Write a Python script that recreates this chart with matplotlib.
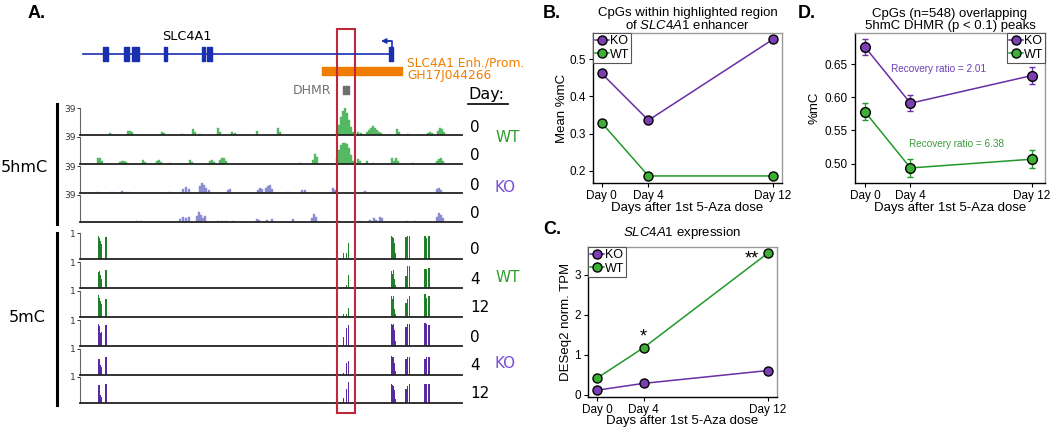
import matplotlib
matplotlib.use("Agg")
import matplotlib.pyplot as plt
from matplotlib.patches import Rectangle
from matplotlib.lines import Line2D

plt.rcParams["font.family"] = "Liberation Sans"
plt.rcParams["mathtext.fontset"] = "custom"
plt.rcParams["mathtext.it"] = "Liberation Sans:italic"
plt.rcParams["mathtext.rm"] = "Liberation Sans"

# ---------------- data ----------------
# panel A: browser region, positions in arbitrary region units (0-382)
gene_span = (3, 312)
exons = [(23, 5), (44, 5), (52, 7), (84, 3), (122, 3), (127, 5), (309, 4)]
tss = 312
enhancer = (242, 80)
dhmr = (263, 6)
highlight = (257, 275)

hmc_labels = ["0", "0", "0", "0"]
hmc_wt0_pos = [30, 48, 50, 52, 82, 84, 102, 113, 115, 120, 138, 140, 152, 155, 177, 198, 200,
               257, 259, 261, 263, 265, 267, 269, 271, 273,
               278, 281, 287, 289, 291, 293, 295, 297, 299, 301, 317, 319, 328, 348, 350, 352,
               358, 360, 362, 364]
hmc_wt0_val = [3, 6, 6, 4, 4, 3, 1, 9, 4, 1, 10, 4, 4, 3, 6, 10, 4,
               6, 14, 26, 35, 39, 32, 22, 12, 4,
               4, 3, 4, 7, 10, 13, 10, 7, 4, 3, 9, 4, 1, 3, 4, 3,
               6, 10, 9, 4]
hmc_wt1_pos = [18, 20, 22, 40, 42, 44, 46, 63, 65, 77, 79, 81, 90, 110, 112, 130, 132, 134,
               140, 142, 144, 146, 220, 233, 235, 237,
               257, 259, 261, 263, 265, 267, 269, 271, 273,
               278, 280, 287, 293, 312, 314, 316, 318, 333, 357, 359, 361, 363]
hmc_wt1_val = [9, 8, 4, 3, 5, 5, 3, 6, 3, 4, 6, 3, 1, 6, 3, 5, 6, 3,
               6, 9, 8, 4, 1, 6, 14, 10,
               8, 20, 27, 30, 30, 29, 23, 13, 4,
               7, 5, 4, 1, 8, 4, 8, 4, 2, 4, 7, 9, 5]
hmc_ko0_pos = [18, 32, 42, 48, 90, 103, 106, 109, 120, 122, 124, 126, 129, 148, 150,
               178, 180, 182, 186, 188, 190, 192, 208, 222, 225, 253, 255, 285, 357, 359, 361]
hmc_ko0_val = [2, 1.5, 3, 1.5, 1.5, 6, 9, 6, 10, 14, 12, 7, 4, 4, 6,
               4, 7, 6, 7, 10, 12, 6, 1.5, 4, 4, 7, 4, 3, 6, 7, 4]
hmc_ko1_pos = [57, 61, 100, 103, 106, 109, 117, 119, 121, 123, 125, 138, 142, 146, 153,
               177, 179, 187, 192, 213, 232, 234, 236, 260, 280, 290, 294, 296, 300, 302,
               327, 335, 357, 359, 361, 363]
hmc_ko1_val = [1.5, 1.5, 4, 7, 6, 7, 9, 14, 10, 6, 9, 2, 2, 2, 1.5,
               4, 3, 3, 4, 4, 6, 12, 7, 1.5, 1.5, 3, 6, 3, 7, 6,
               1.5, 1.5, 7, 13, 10, 6]

cpg_pos = [18.3, 19.3, 20.3, 21.3, 26, 263.5, 266.5, 268.3, 311.7, 312.7, 313.7, 314.7,
           315.7, 326, 327.3, 329.3, 345, 346.7, 349]
mc_labels = ["0", "4", "12", "0", "4", "12"]
mc_wt0 = [0.88, 0.80, 0.70, 0.58, 0.83, 0.22, 0.25, 0.63, 0.90, 0.85, 0.80, 0.60, 0.22,
          0.86, 0.88, 0.88, 0.88, 0.80, 0.88]
mc_wt4 = [0.60, 0.65, 0.50, 0.35, 0.68, 0.03, 0.10, 0.50, 0.65, 0.55, 0.70, 0.35, 0.10,
          0.45, 0.85, 0.85, 0.75, 0.75, 0.78]
mc_wt12 = [0.85, 0.75, 0.60, 0.50, 0.70, 0.10, 0.12, 0.35, 0.80, 0.70, 0.80, 0.30, 0.10,
           0.55, 0.70, 0.80, 0.90, 0.75, 0.80]
mc_ko0 = [0.85, 0.77, 0.50, 0.55, 0.80, 0.35, 0.70, 0.80, 0.85, 0.80, 0.85, 0.60, 0.20,
          0.75, 0.85, 0.85, 0.90, 0.85, 0.80]
mc_ko4 = [0.60, 0.60, 0.40, 0.30, 0.70, 0.08, 0.45, 0.55, 0.75, 0.70, 0.70, 0.45, 0.15,
          0.60, 0.70, 0.70, 0.60, 0.70, 0.70]
mc_ko12 = [0.70, 0.70, 0.30, 0.25, 0.75, 0.20, 0.55, 0.80, 0.75, 0.70, 0.65, 0.50, 0.15,
           0.55, 0.65, 0.75, 0.75, 0.75, 0.75]

# panels B-D
days = [0, 3, 11]
day_labels = ["Day 0", "Day 4", "Day 12"]
b_ko = [0.462, 0.336, 0.554]
b_wt = [0.329, 0.186, 0.186]
c_ko = [0.12, 0.29, 0.61]
c_wt = [0.42, 1.18, 3.54]
d_ko = [0.6758, 0.591, 0.6327]
d_ko_err = [0.0126, 0.012, 0.0127]
d_wt = [0.578, 0.4933, 0.5065]
d_wt_err = [0.0126, 0.013, 0.014]

# colours
KO_C = "#7B3FB3"
KO_L = "#6A2DA5"
WT_C = "#3CB034"
WT_L = "#22992A"
HMC_WT = "#55B862"
HMC_KO = "#8C8CD2"
MC_WT = "#1F7F2A"
MC_KO = "#5A2BA0"

W, H = 1050, 430
fig = plt.figure(figsize=(W / 100, H / 100), dpi=100)


def px_axes(l, t, r, b):
    return fig.add_axes([l / W, 1 - b / H, (r - l) / W, (b - t) / H])


# ---------------- panel A tracks ----------------
def track_axes(baseline, height, ymax, label):
    ax = px_axes(80, baseline - height, 462, baseline)
    ax.set_xlim(0, 382)
    ax.set_ylim(0, ymax)
    ax.patch.set_alpha(0)
    for s in ["top", "right"]:
        ax.spines[s].set_visible(False)
    ax.spines["bottom"].set_color("#222222")
    ax.spines["bottom"].set_linewidth(1.3)
    ax.spines["left"].set_color("#666666")
    ax.spines["left"].set_linewidth(0.8)
    ax.set_xticks([])
    ax.set_yticks([ymax])
    ax.set_yticklabels([label], family="DejaVu Sans")
    ax.tick_params(axis="y", length=2, width=0.7, labelsize=6.5, pad=1,
                   colors="#333333")
    return ax


hmc_base = [135, 164, 193, 222]
hmc_tracks = [(hmc_wt0_pos, hmc_wt0_val, HMC_WT), (hmc_wt1_pos, hmc_wt1_val, HMC_WT),
              (hmc_ko0_pos, hmc_ko0_val, HMC_KO), (hmc_ko1_pos, hmc_ko1_val, HMC_KO)]
for base, (pos, val, col) in zip(hmc_base, hmc_tracks):
    ax = track_axes(base, 27, 39, "39")
    ax.bar(pos, val, width=2.0, color=col, edgecolor=col, linewidth=0.3)

mc_base = [259, 288, 317, 346, 375, 403]
mc_tracks = [(mc_wt0, MC_WT), (mc_wt4, MC_WT), (mc_wt12, MC_WT),
             (mc_ko0, MC_KO), (mc_ko4, MC_KO), (mc_ko12, MC_KO)]
for base, (val, col) in zip(mc_base, mc_tracks):
    ax = track_axes(base, 26, 1, "1")
    ax.bar(cpg_pos, val, width=1.1, color=col)

# ---------------- panel A annotations ----------------
axA = px_axes(0, 0, 560, 430)
axA.set_xlim(-80, 480)
axA.set_ylim(430, 0)
axA.axis("off")
axA.set_zorder(10)
axA.patch.set_alpha(0)
dv = "DejaVu Sans"

axA.text(-52, 14, "A.", fontsize=13, fontweight="bold", va="center", ha="left")
axA.plot(gene_span, [54, 54], color="#1A2FB0", lw=1.2)
axA.broken_barh(exons, (47, 14), color="#1A2FB0")
axA.plot([tss, tss, tss - 3], [54, 41, 41], color="#1A2FB0", lw=1.2)
axA.annotate("", xy=(tss - 11, 41), xytext=(tss - 2, 41),
             arrowprops=dict(arrowstyle="-|>", color="#1A2FB0", lw=1.2,
                             mutation_scale=7, shrinkA=0, shrinkB=0))
axA.text(107, 37, "SLC4A1", family=dv, fontsize=9.3, ha="center", va="center")
axA.broken_barh([enhancer], (67, 8), color="#F07D00")
axA.text(327, 63, "SLC4A1 Enh./Prom.", family=dv, fontsize=8.8, color="#F07D00",
         ha="left", va="center")
axA.text(327, 76, "GH17J044266", family=dv, fontsize=8.8, color="#F07D00",
         ha="left", va="center")
axA.broken_barh([dhmr], (86, 8), color="#707070")
axA.text(dhmr[0] - 12, 90, "DHMR", family=dv, fontsize=9, color="#707070",
         ha="right", va="center")
axA.add_patch(Rectangle((highlight[0], 29), highlight[1] - highlight[0], 384,
                        fill=False, edgecolor="#C0283C", lw=1.5))

axA.plot([-23, -23], [104, 224], color="black", lw=2.2)
axA.plot([-23, -23], [233, 405], color="black", lw=2.2)
axA.text(-56, 168, "5hmC", family=dv, fontsize=11.5, ha="center", va="center")
axA.text(-53, 318, "5mC", family=dv, fontsize=11.5, ha="center", va="center")

axA.text(388, 95, "Day:", family=dv, fontsize=11.5, ha="left", va="center")
axA.plot([388, 428], [104, 104], color="black", lw=1.2)
for base, lab in zip(hmc_base, hmc_labels):
    axA.text(390, base - 8, lab, family=dv, fontsize=11, ha="left", va="center")
for base, lab in zip(mc_base, mc_labels):
    axA.text(390, base - 9, lab, family=dv, fontsize=11, ha="left", va="center")
grp_col = {"WT": "#2EA02E", "KO": "#7A4FD8"}
for y, g in [(137, "WT"), (188, "KO"), (278, "WT"), (363, "KO")]:
    axA.text(415, y, g, family=dv, fontsize=11, color=grp_col[g], ha="left", va="center")


# ---------------- panels B-D ----------------
def style_axes(ax):
    for s in ["top", "right"]:
        ax.spines[s].set_color("#999999")
        ax.spines[s].set_linewidth(1.0)
    for s in ["left", "bottom"]:
        ax.spines[s].set_color("black")
        ax.spines[s].set_linewidth(1.0)
    ax.set_xticks(days)
    ax.set_xticklabels(day_labels)
    ax.tick_params(length=3, width=0.8, labelsize=8.5, pad=2)


def legend(ax, loc, anchor):
    handles = [Line2D([], [], color=KO_L, lw=1.1, marker="o", ms=6.5, mfc=KO_C, mec="black"),
               Line2D([], [], color=WT_L, lw=1.1, marker="o", ms=6.5, mfc=WT_C, mec="black")]
    leg = ax.legend(handles, ["KO", "WT"], loc=loc, bbox_to_anchor=anchor, fontsize=9,
                    handlelength=1.1, handletextpad=0.1, borderpad=0.15,
                    labelspacing=0.15, borderaxespad=0, fancybox=False, framealpha=1)
    leg.get_frame().set_edgecolor("#555555")
    leg.get_frame().set_linewidth(0.8)


# B
axB = px_axes(593, 33, 782, 183)
axB.plot(days, b_ko, "-o", color=KO_L, lw=1.1, ms=6.5, mfc=KO_C, mec="black", mew=1)
axB.plot(days, b_wt, "-o", color=WT_L, lw=1.1, ms=6.5, mfc=WT_C, mec="black", mew=1)
axB.set_xlim(-0.56, 11.58)
axB.set_ylim(0.167, 0.571)
axB.set_yticks([0.2, 0.3, 0.4, 0.5])
style_axes(axB)
axB.set_title("CpGs within highlighted region\nof $\\mathit{SLC4A1}$ enhancer",
              fontsize=9.5, pad=3, linespacing=1.0)
axB.set_ylabel("Mean %mC", fontsize=9.5)
axB.set_xlabel("Days after 1st 5-Aza dose", fontsize=9.5)
axB.yaxis.set_label_coords(-0.132, 0.5)
axB.xaxis.set_label_coords(0.5, -0.13)
legend(axB, "upper left", (0, 1))
fig.text(543 / W, 1 - 13 / H, "B.", fontsize=13, fontweight="bold", va="center")

# C
axC = px_axes(588, 247, 777, 397)
axC.plot(days, c_ko, "-o", color=KO_L, lw=1.1, ms=6.5, mfc=KO_C, mec="black", mew=1)
axC.plot(days, c_wt, "-o", color=WT_L, lw=1.1, ms=6.5, mfc=WT_C, mec="black", mew=1)
axC.set_xlim(-0.58, 11.58)
axC.set_ylim(-0.05, 3.69)
axC.set_yticks([0, 1, 2, 3])
style_axes(axC)
axC.text(days[1], c_wt[1] + 0.05, "*", fontsize=13, ha="center", va="bottom")
axC.text(10.45, c_wt[2] - 0.15, "**", fontsize=13, ha="right", va="center")
axC.set_title("$\\mathit{SLC4A1}$ expression", fontsize=9.5, pad=8)
axC.set_ylabel("DESeq2 norm. TPM", fontsize=9.5)
axC.set_xlabel("Days after 1st 5-Aza dose", fontsize=9.5)
axC.yaxis.set_label_coords(-0.085, 0.5)
axC.xaxis.set_label_coords(0.5, -0.12)
legend(axC, "upper left", (0, 1))
fig.text(543 / W, 1 - 230 / H, "C.", fontsize=13, fontweight="bold", va="center")

# D
axD = px_axes(855, 33, 1045, 183)
axD.errorbar(days, d_ko, yerr=d_ko_err, fmt="-o", color=KO_L, lw=1.1, ms=7,
             mfc=KO_C, mec="black", mew=1, capsize=2, elinewidth=1)
axD.errorbar(days, d_wt, yerr=d_wt_err, fmt="-o", color=WT_L, lw=1.1, ms=7,
             mfc=WT_C, mec="black", mew=1, capsize=2, elinewidth=1)
axD.set_xlim(-0.66, 11.88)
axD.set_ylim(0.4706, 0.697)
axD.set_yticks([0.50, 0.55, 0.60, 0.65])
axD.set_yticklabels(["0.50", "0.55", "0.60", "0.65"])
style_axes(axD)
axD.text(4.84, 0.6424, "Recovery ratio = 2.01", fontsize=7.2, color="#6A3FB5",
         ha="center", va="center")
axD.text(6.05, 0.5292, "Recovery ratio = 6.38", fontsize=7.2, color="#3A9A3A",
         ha="center", va="center")
axD.set_title("CpGs (n=548) overlapping\n5hmC DHMR (p < 0.1) peaks",
              fontsize=9.5, pad=3, linespacing=1.0)
axD.set_ylabel("%mC", fontsize=9.5)
axD.set_xlabel("Days after 1st 5-Aza dose", fontsize=9.5)
axD.yaxis.set_label_coords(-0.179, 0.5)
axD.xaxis.set_label_coords(0.5, -0.13)
legend(axD, "upper right", (1, 1))
fig.text(798 / W, 1 - 13 / H, "D.", fontsize=13, fontweight="bold", va="center")

fig.savefig("out.png", dpi=100)
